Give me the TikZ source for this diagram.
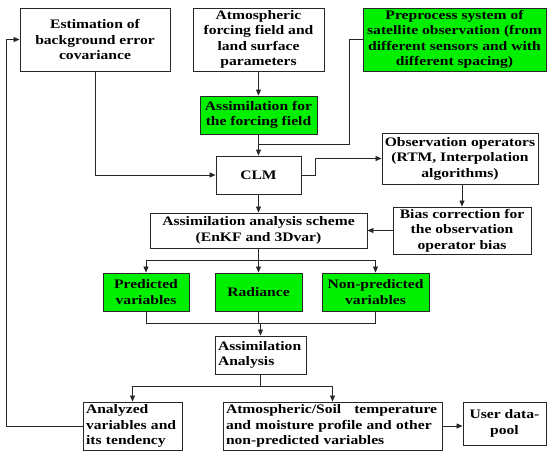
\documentclass[tikz,border=0pt]{standalone}
\usepackage{fontspec}
\setmainfont{Liberation Serif}[FakeStretch=1.2]
\usetikzlibrary{arrows.meta}
\definecolor{boxgreen}{RGB}{0,240,0}
\begin{document}
\begin{tikzpicture}[x=1pt,y=-1pt,
  box/.style={draw=black!85, line width=0.9pt, inner sep=0pt, align=center,
    font=\fontsize{13}{15.5}\selectfont\bfseries},
  gbox/.style={box, fill=boxgreen},
  lbox/.style={box, align=left, inner xsep=3pt},
  conn/.style={draw=black!85, line width=0.8pt},
  arr/.style={conn, -{Triangle[length=6pt,width=5pt]}}]
\useasboundingbox (0,0) rectangle (547,451);
% boxes
\node[box, minimum width=150, minimum height=63] (est) at (95,39.5) {Estimation of\\background error\\covariance};
\node[box, minimum width=131, minimum height=63] (atm) at (258.5,39.5) {Atmospheric\\forcing field and\\land surface\\parameters};
\node[gbox, minimum width=183, minimum height=63] (pre) at (454.5,39.5) {Preprocess system of\\satellite observation (from\\different sensors and with\\different spacing)};
\node[gbox, minimum width=117, minimum height=38] (asf) at (258.5,115) {Assimilation for\\the forcing field};
\node[box, minimum width=85, minimum height=38] (clm) at (258.5,175) {CLM};
\node[box, minimum width=156, minimum height=51] (obs) at (460,158.5) {Observation operators\\(RTM, Interpolation\\algorithms)};
\node[box, minimum width=138, minimum height=47] (bias) at (462,230.5) {Bias correction for\\the observation\\operator bias};
\node[box, minimum width=217, minimum height=35] (sch) at (258.5,230.5) {Assimilation analysis scheme\\(EnKF and 3Dvar)};
\node[gbox, minimum width=86, minimum height=38] (pred) at (146,292) {Predicted\\variables};
\node[gbox, minimum width=87, minimum height=38] (rad) at (258.5,292) {Radiance};
\node[gbox, minimum width=107, minimum height=38] (npred) at (375.5,292) {Non-predicted\\variables};
\node[lbox, text width=85, minimum height=38] (aa) at (260.5,355) {Assimilation\\Analysis};
\node[lbox, text width=93, minimum height=48] (anv) at (132.5,426) {Analyzed\\variables and\\its tendency};
\node[lbox, text width=213, minimum height=48] (aso) at (332.5,426) {Atmospheric/Soil\hspace{1em}temperature\\and moisture profile and other\\non-predicted variables};
\node[box, minimum width=83, minimum height=43] (user) at (504.5,423.5) {User data-\\pool};
% junction coordinates
\coordinate (jpre) at (258.5,144);
\coordinate (jsch) at (258.5,260);
\coordinate (jbot) at (146,323);
\coordinate (jaa) at (260.5,386);
% connectors
\draw[arr] (est.south) |- (clm.west);
\draw[arr] (atm.south) -- (asf.north);
\draw[arr] (asf.south) -- (clm.north);
\draw[conn] (pre.west) -- (349,39.5) |- (jpre);
\draw[arr] (clm.east) -- ++(14,0) |- (obs.west);
\draw[arr] (bias.north |- obs.south) -- (bias.north);
\draw[arr] (bias.west) -- (sch.east);
\draw[arr] (clm.south) -- (sch.north);
\draw[arr] (sch.south) -- (rad.north);
\draw[arr] (jsch) -| (pred.north);
\draw[arr] (jsch) -| (npred.north);
\draw[conn] (pred.south) -- (jbot) -| (npred.south);
\draw[conn] (rad.south) -- (rad.south |- jbot);
\draw[arr] (aa.north |- jbot) -- (aa.north);
\draw[conn] (aa.south) -- (jaa);
\draw[arr] (jaa) -| (anv.north);
\draw[arr] (jaa) -| (aso.north);
\draw[arr] (anv.west) -- (6,426) |- (est.west);
\draw[arr] (aso.east) -- (aso.east -| user.west);
\end{tikzpicture}
\end{document}
